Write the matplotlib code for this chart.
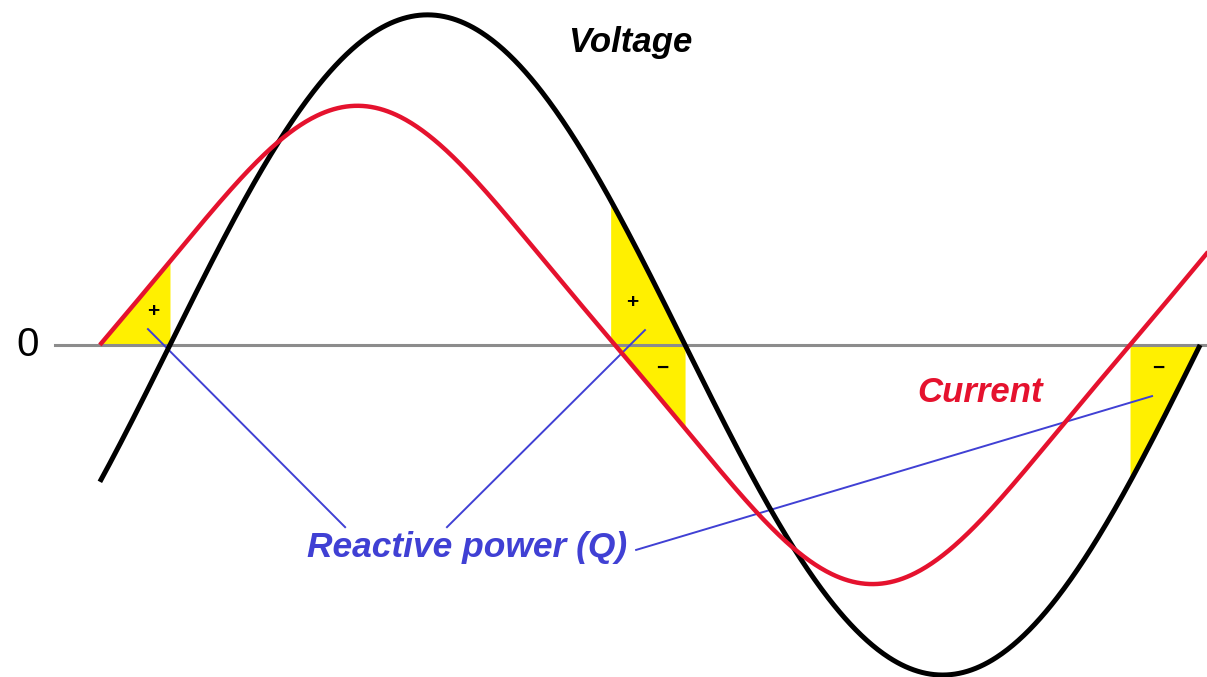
"""Voltage / current phase diagram with reactive power regions."""

import numpy as np
import matplotlib.pyplot as plt

# wave parameters (angle in degrees, amplitude relative to voltage)
v_amp = 1.0
i_amp = 0.69
i_third = -0.05              # slight triangular shape of the current trace
phase_lead = 24.5            # current leads voltage
angle_start = -24.5
voltage_end = 360.0
current_end = 364.0

# reactive power windows (current and voltage of opposite sign)
q_windows = [(-phase_lead, 0.0), (180.0 - phase_lead, 180.0), (360.0 - phase_lead, 360.0)]
q_fill_wave = ["current", "both", "voltage"]
q_signs = [("+", -6.0, 0.10), ("+", 161.5, 0.13), ("\u2212", 172.0, -0.07), ("\u2212", 345.5, -0.07)]

# pointer lines of the "Reactive power (Q)" label
q_starts = [(61.2, -0.552), (96.8, -0.552), (162.9, -0.621)]
q_targets = [(-7.7, 0.048), (166.0, 0.045), (343.2, -0.155)]

FONT = ["Liberation Sans", "DejaVu Sans"]
RED = "#e5122e"
BLUE = "#4040d4"
YELLOW = "#fff000"


def v_wave(t):
    return v_amp * np.sin(np.radians(t))


def i_wave(t):
    p = np.radians(t + phase_lead)
    return i_amp * (np.sin(p) + i_third * np.sin(3 * p))


fig = plt.figure(figsize=(12.07, 6.77), dpi=100)
ax = fig.add_axes([0, 0, 1, 1])
ax.set_xlim(-59.4, 362.4)
ax.set_ylim(-1.006, 1.045)
ax.axis("off")

# fills first so the curves sit on top
for (a, b), kind in zip(q_windows, q_fill_wave):
    t = np.linspace(a, b, 100)
    if kind == "current":
        ax.fill_between(t, 0, i_wave(t), color=YELLOW, lw=0, zorder=1)
    elif kind == "voltage":
        ax.fill_between(t, 0, v_wave(t), color=YELLOW, lw=0, zorder=1)
    else:
        tv = np.linspace(a - 1.5, b, 100)
        ax.fill_between(tv, 0, np.maximum(v_wave(tv), 0), color=YELLOW, lw=0, zorder=1)
        ax.fill_between(t, 0, np.minimum(i_wave(t), 0), color=YELLOW, lw=0, zorder=1)

ax.plot([-40.2, 362.4], [0, 0], color="#8c8c8c", lw=2.2, zorder=2)

t_v = np.linspace(angle_start, voltage_end, 800)
t_i = np.linspace(angle_start, current_end, 800)
ax.plot(t_v, v_wave(t_v), color="black", lw=3.6, zorder=4, solid_capstyle="butt")
ax.plot(t_i, i_wave(t_i), color=RED, lw=3.2, zorder=4, solid_capstyle="butt")

for s, x, y in q_signs:
    ax.text(x, y, s, ha="center", va="center", fontsize=15, fontweight="bold",
            family=FONT, zorder=5)

for (x0, y0), (x1, y1) in zip(q_starts, q_targets):
    ax.plot([x0, x1], [y0, y1], color=BLUE, lw=1.4, zorder=3)

ax.text(-49.6, 0.0, "0", ha="center", va="center", fontsize=29, family=FONT)
ax.text(160.8, 0.915, "Voltage", ha="center", va="center", fontsize=25,
        fontweight="bold", fontstyle="italic", family=FONT)
ax.text(283.1, -0.145, "Current", ha="center", va="center", fontsize=25,
        fontweight="bold", fontstyle="italic", family=FONT, color=RED)
ax.text(103.8, -0.615, "Reactive power (Q)", ha="center", va="center", fontsize=25.5,
        fontweight="bold", fontstyle="italic", family=FONT, color=BLUE)

fig.savefig("out.png", dpi=100, facecolor="white")
